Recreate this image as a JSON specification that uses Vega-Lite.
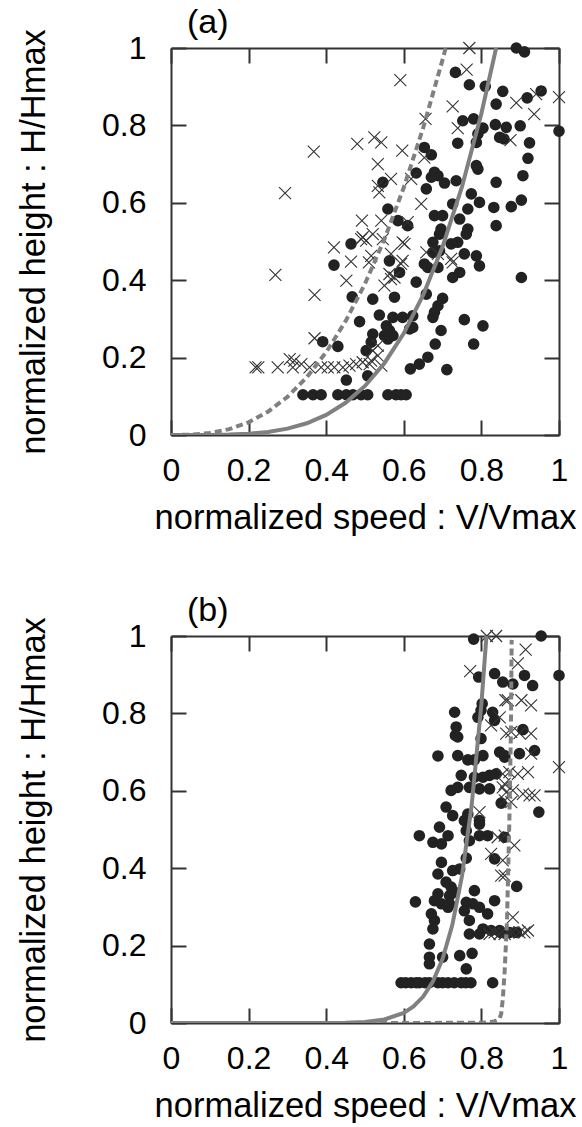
{
  "$schema": "https://vega.github.io/schema/vega-lite/v6.json",
  "padding": {"left": 16, "top": 5, "right": 0, "bottom": 0},
  "spacing": 58,
  "config": {
    "font": "Liberation Sans",
    "view": {"stroke": null},
    "axis": {"grid": false, "domainColor": "#333", "domainWidth": 2, "tickColor": "#333", "tickWidth": 2, "tickSize": -15,
      "labelFontSize": 32, "labelColor": "#000", "titleFontSize": 34.5, "titleFontWeight": "normal", "titleColor": "#000",
      "labelFont": "Liberation Sans", "titleFont": "Liberation Sans", "labelFlush": false, "format": "~g"},
    "title": {"fontSize": 34, "fontWeight": "normal", "font": "Liberation Sans", "color": "#000"}
  },
  "datasets": {
    "a_circles": [
      {"v":0.890,"h":1.0},{"v":0.911,"h":0.99},{"v":0.733,"h":0.937},{"v":0.769,"h":0.905},{"v":0.810,"h":0.901},{"v":0.855,"h":0.888},
      {"v":0.838,"h":0.855},{"v":0.918,"h":0.871},{"v":0.954,"h":0.889},{"v":1.0,"h":0.785},{"v":0.752,"h":0.812},{"v":0.780,"h":0.817},
      {"v":0.804,"h":0.793},{"v":0.791,"h":0.778},{"v":0.836,"h":0.802},{"v":0.864,"h":0.795},{"v":0.900,"h":0.799},{"v":0.847,"h":0.769},
      {"v":0.858,"h":0.765},{"v":0.924,"h":0.755},{"v":0.739,"h":0.754},{"v":0.787,"h":0.756},{"v":0.920,"h":0.715},{"v":0.653,"h":0.743},
      {"v":0.671,"h":0.724},{"v":0.787,"h":0.696},{"v":0.791,"h":0.687},{"v":0.907,"h":0.670},{"v":0.838,"h":0.653},{"v":0.735,"h":0.657},
      {"v":0.705,"h":0.651},{"v":0.679,"h":0.679},{"v":0.688,"h":0.670},{"v":0.671,"h":0.666},{"v":0.632,"h":0.677},{"v":0.658,"h":0.636},
      {"v":0.546,"h":0.653},{"v":0.559,"h":0.584},{"v":0.774,"h":0.623},{"v":0.795,"h":0.601},{"v":0.765,"h":0.584},{"v":0.726,"h":0.597},
      {"v":0.832,"h":0.588},{"v":0.877,"h":0.590},{"v":0.903,"h":0.607},{"v":0.838,"h":0.541},{"v":0.679,"h":0.567},{"v":0.700,"h":0.567},
      {"v":0.744,"h":0.558},{"v":0.585,"h":0.554},{"v":0.610,"h":0.541},{"v":0.765,"h":0.532},{"v":0.696,"h":0.532},{"v":0.692,"h":0.519},
      {"v":0.761,"h":0.519},{"v":0.739,"h":0.498},{"v":0.722,"h":0.494},{"v":0.675,"h":0.498},{"v":0.692,"h":0.476},{"v":0.675,"h":0.472},
      {"v":0.756,"h":0.468},{"v":0.787,"h":0.463},{"v":0.795,"h":0.437},{"v":0.653,"h":0.442},{"v":0.662,"h":0.433},{"v":0.688,"h":0.433},
      {"v":0.563,"h":0.450},{"v":0.589,"h":0.420},{"v":0.632,"h":0.395},{"v":0.744,"h":0.420},{"v":0.726,"h":0.407},{"v":0.903,"h":0.407},
      {"v":0.520,"h":0.351},{"v":0.576,"h":0.356},{"v":0.658,"h":0.364},{"v":0.700,"h":0.353},{"v":0.688,"h":0.334},{"v":0.679,"h":0.317},
      {"v":0.675,"h":0.304},{"v":0.537,"h":0.310},{"v":0.572,"h":0.304},{"v":0.597,"h":0.304},{"v":0.623,"h":0.308},{"v":0.555,"h":0.282},
      {"v":0.563,"h":0.270},{"v":0.550,"h":0.257},{"v":0.572,"h":0.257},{"v":0.559,"h":0.248},{"v":0.520,"h":0.261},{"v":0.516,"h":0.240},
      {"v":0.615,"h":0.274},{"v":0.623,"h":0.278},{"v":0.696,"h":0.270},{"v":0.756,"h":0.298},{"v":0.804,"h":0.282},{"v":0.681,"h":0.235},
      {"v":0.780,"h":0.235},{"v":0.662,"h":0.201},{"v":0.640,"h":0.183},{"v":0.617,"h":0.171},{"v":0.711,"h":0.169},{"v":0.559,"h":0.104},
      {"v":0.580,"h":0.104},{"v":0.593,"h":0.104},{"v":0.606,"h":0.104},{"v":0.464,"h":0.494},{"v":0.420,"h":0.439},{"v":0.467,"h":0.357},
      {"v":0.486,"h":0.293},{"v":0.391,"h":0.241},{"v":0.430,"h":0.229},{"v":0.503,"h":0.218},{"v":0.452,"h":0.142},{"v":0.340,"h":0.104},
      {"v":0.366,"h":0.104},{"v":0.387,"h":0.104},{"v":0.430,"h":0.104},{"v":0.452,"h":0.104},{"v":0.469,"h":0.104},{"v":0.490,"h":0.104},
      {"v":0.507,"h":0.104},{"v":0.507,"h":0.153}
    ],
    "a_crosses": [
      {"v":0.368,"h":0.732},{"v":0.480,"h":0.752},{"v":0.294,"h":0.625},{"v":0.492,"h":0.554},{"v":0.494,"h":0.511},
      {"v":0.769,"h":1.0},{"v":0.591,"h":0.917},{"v":0.762,"h":0.944},{"v":0.726,"h":0.849},{"v":0.890,"h":0.858},{"v":0.941,"h":0.881},
      {"v":1.0,"h":0.873},{"v":0.936,"h":0.829},{"v":0.656,"h":0.817},{"v":0.739,"h":0.793},{"v":0.875,"h":0.762},{"v":0.524,"h":0.769},
      {"v":0.542,"h":0.756},{"v":0.596,"h":0.735},{"v":0.653,"h":0.717},{"v":0.533,"h":0.700},{"v":0.567,"h":0.662},{"v":0.619,"h":0.662},
      {"v":0.533,"h":0.644},{"v":0.537,"h":0.627},{"v":0.645,"h":0.597},{"v":0.542,"h":0.554},{"v":0.610,"h":0.550},{"v":0.520,"h":0.519},
      {"v":0.546,"h":0.506},{"v":0.597,"h":0.498},{"v":0.602,"h":0.494},{"v":0.567,"h":0.468},{"v":0.516,"h":0.463},{"v":0.597,"h":0.450},
      {"v":0.593,"h":0.442},{"v":0.658,"h":0.472},{"v":0.688,"h":0.468},{"v":0.722,"h":0.455},{"v":0.726,"h":0.446},{"v":0.563,"h":0.416},
      {"v":0.567,"h":0.403},{"v":0.550,"h":0.386},{"v":0.576,"h":0.407},{"v":0.533,"h":0.231},{"v":0.520,"h":0.218},{"v":0.533,"h":0.205},
      {"v":0.516,"h":0.192},{"v":0.542,"h":0.179},{"v":0.218,"h":0.175},{"v":0.225,"h":0.175},{"v":0.275,"h":0.175},{"v":0.306,"h":0.196},
      {"v":0.318,"h":0.192},{"v":0.314,"h":0.175},{"v":0.336,"h":0.183},{"v":0.357,"h":0.175},{"v":0.387,"h":0.175},{"v":0.404,"h":0.175},
      {"v":0.421,"h":0.175},{"v":0.443,"h":0.175},{"v":0.460,"h":0.179},{"v":0.477,"h":0.183},{"v":0.494,"h":0.188},{"v":0.512,"h":0.183},
      {"v":0.370,"h":0.250},{"v":0.370,"h":0.362},{"v":0.269,"h":0.414},{"v":0.452,"h":0.399},{"v":0.420,"h":0.485},{"v":0.464,"h":0.448},
      {"v":0.490,"h":0.506},{"v":0.503,"h":0.502},{"v":0.510,"h":0.446}
    ],
    "a_solid": [
      {"v":0,"h":0},{"v":0.05,"h":0.00001},{"v":0.1,"h":0.0002},{"v":0.15,"h":0.001},{"v":0.2,"h":0.0033},{"v":0.25,"h":0.0079},
      {"v":0.3,"h":0.0164},{"v":0.35,"h":0.0304},{"v":0.4,"h":0.0519},{"v":0.45,"h":0.0832},{"v":0.5,"h":0.1268},{"v":0.55,"h":0.1855},
      {"v":0.6,"h":0.2628},{"v":0.65,"h":0.362},{"v":0.7,"h":0.4868},{"v":0.75,"h":0.6416},{"v":0.8,"h":0.8306},{"v":0.838,"h":1.0}
    ],
    "a_dashed": [
      {"v":0,"h":0},{"v":0.05,"h":0.0008},{"v":0.1,"h":0.0051},{"v":0.15,"h":0.0151},{"v":0.2,"h":0.0329},{"v":0.25,"h":0.0602},
      {"v":0.3,"h":0.0984},{"v":0.35,"h":0.1493},{"v":0.4,"h":0.214},{"v":0.45,"h":0.2942},{"v":0.5,"h":0.391},{"v":0.55,"h":0.5057},
      {"v":0.6,"h":0.6396},{"v":0.65,"h":0.7939},{"v":0.7,"h":0.97},{"v":0.708,"h":1.0}
    ],
    "b_circles": [
      {"v":0.780,"h":0.992},{"v":0.793,"h":0.894},{"v":0.834,"h":0.903},{"v":0.855,"h":0.881},{"v":0.802,"h":0.825},{"v":0.799,"h":0.808},
      {"v":0.829,"h":0.803},{"v":0.791,"h":0.790},{"v":0.834,"h":0.782},{"v":0.731,"h":0.803},{"v":0.735,"h":0.765},{"v":0.739,"h":0.739},
      {"v":0.733,"h":0.743},{"v":0.799,"h":0.735},{"v":0.688,"h":0.690},{"v":0.739,"h":0.691},{"v":0.765,"h":0.680},{"v":0.782,"h":0.680},
      {"v":0.804,"h":0.691},{"v":0.847,"h":0.700},{"v":0.860,"h":0.687},{"v":0.748,"h":0.640},{"v":0.782,"h":0.635},{"v":0.804,"h":0.635},
      {"v":0.821,"h":0.640},{"v":0.838,"h":0.644},{"v":0.722,"h":0.601},{"v":0.739,"h":0.609},{"v":0.769,"h":0.609},{"v":0.795,"h":0.605},
      {"v":0.821,"h":0.605},{"v":0.851,"h":0.568},{"v":0.709,"h":0.558},{"v":0.726,"h":0.536},{"v":0.756,"h":0.523},{"v":0.765,"h":0.540},
      {"v":0.795,"h":0.523},{"v":0.692,"h":0.506},{"v":0.954,"h":1.0},{"v":1.0,"h":0.898},{"v":0.911,"h":0.898},{"v":0.932,"h":0.872},
      {"v":0.881,"h":0.876},{"v":0.907,"h":0.758},{"v":0.860,"h":0.691},{"v":0.898,"h":0.696},{"v":0.937,"h":0.704},{"v":0.948,"h":0.545},
      {"v":0.714,"h":0.484},{"v":0.675,"h":0.467},{"v":0.697,"h":0.463},{"v":0.761,"h":0.497},{"v":0.795,"h":0.514},{"v":0.795,"h":0.484},
      {"v":0.816,"h":0.484},{"v":0.769,"h":0.471},{"v":0.640,"h":0.484},{"v":0.697,"h":0.415},{"v":0.761,"h":0.426},{"v":0.834,"h":0.424},
      {"v":0.688,"h":0.385},{"v":0.726,"h":0.394},{"v":0.744,"h":0.398},{"v":0.709,"h":0.364},{"v":0.722,"h":0.351},{"v":0.731,"h":0.338},
      {"v":0.718,"h":0.329},{"v":0.688,"h":0.334},{"v":0.679,"h":0.316},{"v":0.697,"h":0.308},{"v":0.714,"h":0.299},{"v":0.718,"h":0.308},
      {"v":0.630,"h":0.313},{"v":0.782,"h":0.342},{"v":0.834,"h":0.316},{"v":0.761,"h":0.312},{"v":0.778,"h":0.308},{"v":0.795,"h":0.299},
      {"v":0.756,"h":0.290},{"v":0.816,"h":0.282},{"v":0.769,"h":0.265},{"v":0.671,"h":0.282},{"v":0.679,"h":0.265},{"v":0.675,"h":0.243},
      {"v":0.769,"h":0.230},{"v":0.795,"h":0.230},{"v":0.804,"h":0.243},{"v":0.825,"h":0.239},{"v":0.847,"h":0.239},{"v":0.666,"h":0.204},
      {"v":0.666,"h":0.170},{"v":0.700,"h":0.170},{"v":0.666,"h":0.153},{"v":0.744,"h":0.174},{"v":0.776,"h":0.180},{"v":0.761,"h":0.140},
      {"v":0.593,"h":0.104},{"v":0.605,"h":0.104},{"v":0.619,"h":0.104},{"v":0.632,"h":0.104},{"v":0.640,"h":0.104},{"v":0.655,"h":0.104},
      {"v":0.666,"h":0.104},{"v":0.688,"h":0.104},{"v":0.700,"h":0.104},{"v":0.714,"h":0.104},{"v":0.730,"h":0.104},{"v":0.748,"h":0.104},
      {"v":0.760,"h":0.104},{"v":0.773,"h":0.104},{"v":0.829,"h":0.104},{"v":0.860,"h":0.480},{"v":0.891,"h":0.353},{"v":0.849,"h":0.234},
      {"v":0.873,"h":0.234},{"v":0.890,"h":0.234}
    ],
    "b_crosses": [
      {"v":0.814,"h":1.0},{"v":0.838,"h":1.0},{"v":0.771,"h":0.909},{"v":0.862,"h":0.834},{"v":0.847,"h":0.790},{"v":0.825,"h":0.769},
      {"v":0.864,"h":0.748},{"v":0.855,"h":0.644},{"v":0.860,"h":0.618},{"v":0.864,"h":0.596},{"v":0.860,"h":0.575},{"v":0.795,"h":0.545},
      {"v":0.914,"h":0.965},{"v":0.894,"h":0.929},{"v":0.868,"h":0.834},{"v":0.903,"h":0.834},{"v":0.928,"h":0.821},{"v":0.877,"h":0.752},
      {"v":0.898,"h":0.749},{"v":0.928,"h":0.748},{"v":0.872,"h":0.648},{"v":0.894,"h":0.644},{"v":0.920,"h":0.648},{"v":0.928,"h":0.696},
      {"v":0.855,"h":0.609},{"v":0.881,"h":0.601},{"v":0.907,"h":0.592},{"v":0.924,"h":0.588},{"v":0.937,"h":0.588},{"v":1.0,"h":0.661},
      {"v":0.877,"h":0.571},{"v":0.842,"h":0.480},{"v":0.860,"h":0.484},{"v":0.825,"h":0.437},{"v":0.855,"h":0.420},{"v":0.860,"h":0.381},
      {"v":0.821,"h":0.230},{"v":0.834,"h":0.234},{"v":0.847,"h":0.230},{"v":0.860,"h":0.230},{"v":0.885,"h":0.459},{"v":0.851,"h":0.381},
      {"v":0.881,"h":0.273},{"v":0.898,"h":0.234},{"v":0.911,"h":0.234},{"v":0.920,"h":0.239},{"v":0.870,"h":0.234},{"v":0.880,"h":0.234}
    ],
    "b_solid": [
      {"v":0,"h":0},{"v":0.2,"h":0},{"v":0.3,"h":0.00002},{"v":0.4,"h":0.0002},{"v":0.45,"h":0.0008},{"v":0.5,"h":0.0029},
      {"v":0.55,"h":0.0092},{"v":0.6,"h":0.0261},{"v":0.625,"h":0.0426},{"v":0.65,"h":0.0682},{"v":0.675,"h":0.1073},{"v":0.7,"h":0.1659},
      {"v":0.725,"h":0.2531},{"v":0.75,"h":0.3798},{"v":0.775,"h":0.563},{"v":0.8,"h":0.8243},{"v":0.813,"h":1.0}
    ],
    "b_dashed": [
      {"v":0,"h":0},{"v":0.5,"h":0},{"v":0.8,"h":0.0005},{"v":0.83,"h":0.003},{"v":0.84,"h":0.007},{"v":0.847,"h":0.012},
      {"v":0.851,"h":0.024},{"v":0.855,"h":0.06},{"v":0.86,"h":0.135},{"v":0.866,"h":0.265},{"v":0.872,"h":0.52},{"v":0.876,"h":0.75},{"v":0.878,"h":0.99}
    ]
  },
  "vconcat": [
    {
      "width": 388, "height": 387,
      "title": {"text": "(a)", "anchor": "start", "frame": "group", "dx": 16, "offset": -11},
      "resolve": {"axis": {"x": "independent", "y": "independent"}},
      "layer": [
        {"data": {"name": "a_circles"},
         "mark": {"type": "point", "shape": "circle", "filled": true, "size": 135, "color": "#222", "opacity": 1},
         "encoding": {
           "x": {"field": "v", "type": "quantitative", "scale": {"domain": [0, 1], "nice": false},
                 "axis": {"orient": "bottom", "values": [0, 0.2, 0.4, 0.6, 0.8, 1], "title": "normalized speed : V/Vmax", "labelPadding": 35, "titlePadding": 15}},
           "y": {"field": "h", "type": "quantitative", "scale": {"domain": [0, 1], "nice": false},
                 "axis": {"orient": "left", "values": [0, 0.2, 0.4, 0.6, 0.8, 1], "title": "normalized height : H/Hmax", "labelPadding": 40, "titlePadding": 50}}
         }},
        {"data": {"name": "a_crosses"},
         "mark": {"type": "point", "shape": "M-1,-1L1,1M-1,1L1,-1", "filled": false, "size": 144, "color": "#333", "strokeWidth": 1.1, "opacity": 1},
         "encoding": {
           "x": {"field": "v", "type": "quantitative", "scale": {"domain": [0, 1], "nice": false},
                 "axis": {"orient": "top", "values": [0, 0.2, 0.4, 0.6, 0.8, 1], "labels": false, "title": null}},
           "y": {"field": "h", "type": "quantitative", "scale": {"domain": [0, 1], "nice": false},
                 "axis": {"orient": "right", "values": [0, 0.2, 0.4, 0.6, 0.8, 1], "labels": false, "title": null}}
         }},
        {"data": {"name": "a_solid"},
         "mark": {"type": "line", "color": "#808080", "strokeWidth": 4, "clip": true},
         "encoding": {
           "x": {"field": "v", "type": "quantitative", "scale": {"domain": [0, 1], "nice": false}, "axis": null},
           "y": {"field": "h", "type": "quantitative", "scale": {"domain": [0, 1], "nice": false}, "axis": null}
         }},
        {"data": {"name": "a_dashed"},
         "mark": {"type": "line", "color": "#808080", "strokeWidth": 4, "strokeDash": [7, 4], "clip": true},
         "encoding": {
           "x": {"field": "v", "type": "quantitative", "scale": {"domain": [0, 1], "nice": false}, "axis": null},
           "y": {"field": "h", "type": "quantitative", "scale": {"domain": [0, 1], "nice": false}, "axis": null}
         }}
      ]
    },
    {
      "width": 388, "height": 387,
      "title": {"text": "(b)", "anchor": "start", "frame": "group", "dx": 16, "offset": -11},
      "resolve": {"axis": {"x": "independent", "y": "independent"}},
      "layer": [
        {"data": {"name": "b_circles"},
         "mark": {"type": "point", "shape": "circle", "filled": true, "size": 135, "color": "#222", "opacity": 1},
         "encoding": {
           "x": {"field": "v", "type": "quantitative", "scale": {"domain": [0, 1], "nice": false},
                 "axis": {"orient": "bottom", "values": [0, 0.2, 0.4, 0.6, 0.8, 1], "title": "normalized speed : V/Vmax", "labelPadding": 35, "titlePadding": 15}},
           "y": {"field": "h", "type": "quantitative", "scale": {"domain": [0, 1], "nice": false},
                 "axis": {"orient": "left", "values": [0, 0.2, 0.4, 0.6, 0.8, 1], "title": "normalized height : H/Hmax", "labelPadding": 40, "titlePadding": 50}}
         }},
        {"data": {"name": "b_crosses"},
         "mark": {"type": "point", "shape": "M-1,-1L1,1M-1,1L1,-1", "filled": false, "size": 144, "color": "#333", "strokeWidth": 1.1, "opacity": 1},
         "encoding": {
           "x": {"field": "v", "type": "quantitative", "scale": {"domain": [0, 1], "nice": false},
                 "axis": {"orient": "top", "values": [0, 0.2, 0.4, 0.6, 0.8, 1], "labels": false, "title": null}},
           "y": {"field": "h", "type": "quantitative", "scale": {"domain": [0, 1], "nice": false},
                 "axis": {"orient": "right", "values": [0, 0.2, 0.4, 0.6, 0.8, 1], "labels": false, "title": null}}
         }},
        {"data": {"name": "b_solid"},
         "mark": {"type": "line", "color": "#808080", "strokeWidth": 4, "clip": true},
         "encoding": {
           "x": {"field": "v", "type": "quantitative", "scale": {"domain": [0, 1], "nice": false}, "axis": null},
           "y": {"field": "h", "type": "quantitative", "scale": {"domain": [0, 1], "nice": false}, "axis": null}
         }},
        {"data": {"name": "b_dashed"},
         "mark": {"type": "line", "color": "#808080", "strokeWidth": 4, "strokeDash": [7, 4], "clip": true},
         "encoding": {
           "x": {"field": "v", "type": "quantitative", "scale": {"domain": [0, 1], "nice": false}, "axis": null},
           "y": {"field": "h", "type": "quantitative", "scale": {"domain": [0, 1], "nice": false}, "axis": null}
         }}
      ]
    }
  ]
}
